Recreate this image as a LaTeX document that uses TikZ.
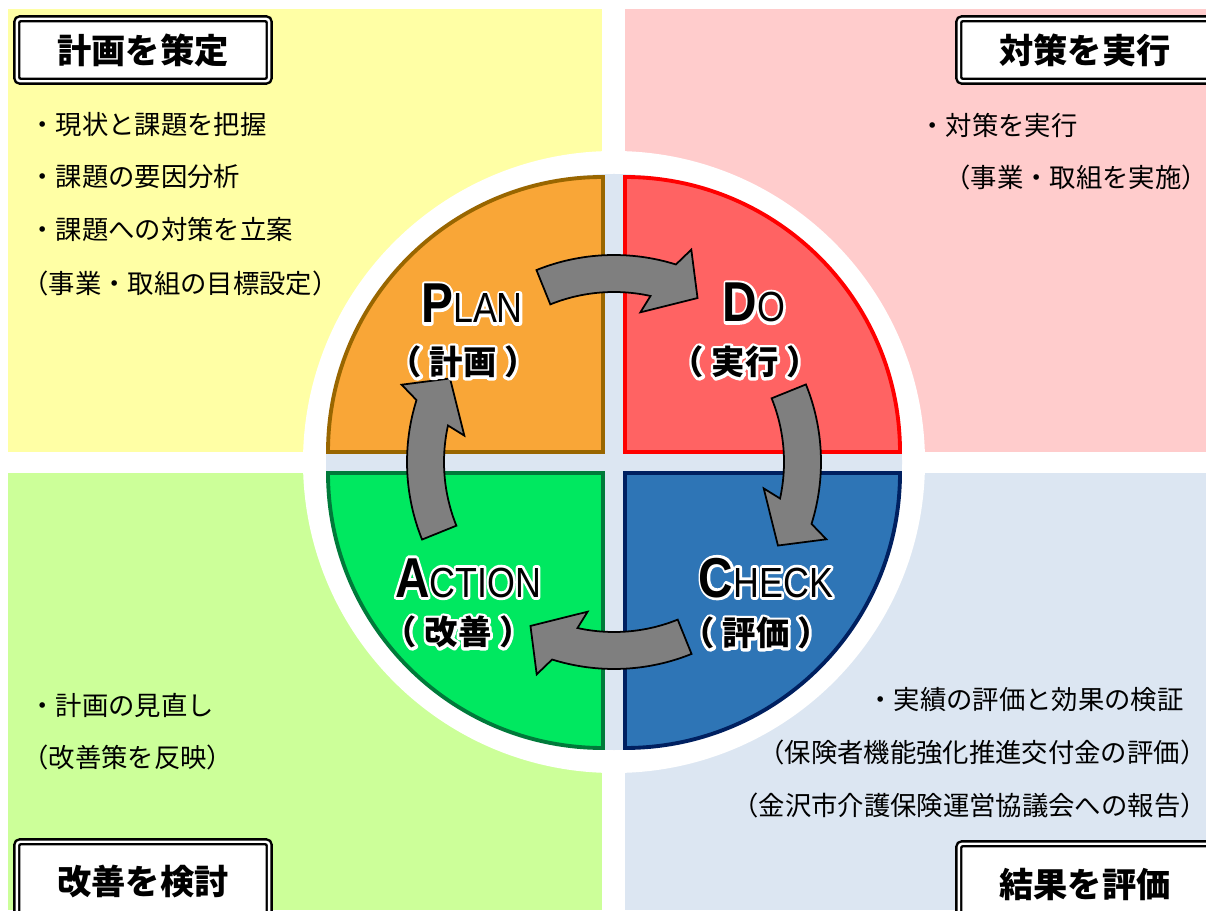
\documentclass[tikz,border=0pt]{standalone}
\usepackage{fontspec}
\usepackage{graphicx}
\setmainfont{Noto Sans CJK JP}
\newfontfamily\jp{Noto Sans CJK JP}
\newfontfamily\lat{Liberation Sans}
\definecolor{bgyellow}{HTML}{FFFFA5}
\definecolor{bgpink}{HTML}{FFCCCC}
\definecolor{bggreen}{HTML}{CCFF99}
\definecolor{bgblue}{HTML}{DCE6F2}
\definecolor{qorange}{HTML}{F9A637}
\definecolor{qorangeb}{HTML}{996600}
\definecolor{qred}{HTML}{FF6363}
\definecolor{qredb}{HTML}{FF0000}
\definecolor{qblue}{HTML}{2E75B6}
\definecolor{qblueb}{HTML}{002060}
\definecolor{qgreen}{HTML}{00E860}
\definecolor{qgreenb}{HTML}{007A3A}
\definecolor{arrowgray}{HTML}{7F7F7F}
% white outline behind black text: a stroked (text render mode 1) white copy
\newcommand\halo[1]{\leavevmode
  \rlap{\special{pdf:literal direct q 1 Tr 3.2 w 1 j 1 J 1 1 1 RG}#1\special{pdf:literal direct Q}}#1}
\newcommand\pdca[2]{\scalebox{0.85}[1]{\lat\fontsize{32}{32}\selectfont\bfseries #1\fontsize{24}{24}\selectfont\mdseries #2}}
\newcommand\jpl[1]{{\jp\bfseries\fontsize{19}{19}\selectfont\llap{（\kern0.23em}#1\rlap{\kern0.23em）}}}
\tikzset{
  titlebox/.style={draw=black, line width=1.4pt, double=white, double distance=1.4pt,
    fill=white, rounded corners=2pt, minimum width=5.05cm, inner sep=0pt,
    font=\jp\bfseries\fontsize{19.5}{19.5}\selectfont},
  bodytext/.style={anchor=west, inner sep=0pt, font=\jp\fontsize{15}{15}\selectfont},
  quad/.style={line width=2.2pt, line join=miter},
  pdcaarrow/.style={fill=arrowgray, draw=black, line width=1pt, line join=miter},
  lbl/.style={inner sep=0pt}
}
\begin{document}
\begin{tikzpicture}[x=0.02cm,y=0.02cm]
\useasboundingbox (0,0) rectangle (1206,910);
\clip (0,0) rectangle (1206,910);
\fill[white] (0,0) rectangle (1206,910);
% quadrant backgrounds
\fill[bgyellow] (8,458) rectangle (602,901);
\fill[bgpink] (625,458) rectangle (1206,901);
\fill[bggreen] (8,0) rectangle (602,437);
\fill[bgblue] (625,0) rectangle (1206,437);
% circle
\fill[white] (614,448) circle[radius=311];
\fill[bgblue] (614,448) circle[radius=288];
% quadrants
\draw[quad, fill=qorange, draw=qorangeb] (603,458) -- (328,458) arc[start angle=180, end angle=90, radius=275] -- cycle;
\draw[quad, fill=qred, draw=qredb] (625,458) -- (625,733) arc[start angle=90, end angle=0, radius=275] -- cycle;
\draw[quad, fill=qblue, draw=qblueb] (625,437) -- (900,437) arc[start angle=0, end angle=-90, radius=275] -- cycle;
\draw[quad, fill=qgreen, draw=qgreenb] (603,437) -- (603,162) arc[start angle=-90, end angle=-180, radius=275] -- cycle;
% arrows
\foreach \r in {0,-90,-180,-270}{
  \draw[pdcaarrow, shift={(614,448)}, rotate=\r]
    (112:207) arc[start angle=112, end angle=72.6, radius=207]
    -- (70:226) -- (63:184) -- (80:152) -- (77.6:170)
    arc[start angle=77.6, end angle=112, radius=170] -- cycle;
}
% title boxes
\node[titlebox, minimum height=1.25cm] (tPlan) at (143,860) {計画を策定};
\node[titlebox, minimum height=1.25cm] (tDo) at (1085,860) {対策を実行};
\node[titlebox, minimum height=1.61cm] (tAct) at (143,28) {改善を検討};
\node[titlebox, minimum height=1.61cm] (tChk) at (1085,26) {結果を評価};
% body texts
\node[bodytext] (tl1) at (29,785) {・現状と課題を把握};
\node[bodytext] (tl2) at (29,733) {・課題の要因分析};
\node[bodytext] (tl3) at (29,681) {・課題への対策を立案};
\node[bodytext] (tl4) at (22,627) {（事業・取組の目標設定）};
\node[bodytext] (tr1) at (919,785) {・対策を実行};
\node[bodytext] (tr2) at (944,733) {（事業・取組を実施）};
\node[bodytext] (bl1) at (29,205) {・計画の見直し};
\node[bodytext] (bl2) at (22,153) {（改善策を反映）};
\node[bodytext] (br1) at (867,210) {・実績の評価と効果の検証};
\node[bodytext] (br2) at (758,158) {（保険者機能強化推進交付金の評価）};
\node[bodytext] (br3) at (732,105) {（金沢市介護保険運営協議会への報告）};
% labels
\node[lbl, anchor=base] (planT) at (472,587) {\halo{\pdca{P}{LAN}}};
\node[lbl] (planJ) at (463,548) {\halo{\jpl{計画}}};
\node[lbl, anchor=base] (doT) at (754,588) {\halo{\pdca{D}{O}}};
\node[lbl] (doJ) at (745,548) {\halo{\jpl{実行}}};
\node[lbl, anchor=base] (actT) at (468,313) {\halo{\pdca{A}{CTION}}};
\node[lbl] (actJ) at (458,278) {\halo{\jpl{改善}}};
\node[lbl, anchor=base] (chkT) at (766,313) {\halo{\pdca{C}{HECK}}};
\node[lbl] (chkJ) at (756,277) {\halo{\jpl{評価}}};
\end{tikzpicture}
\end{document}
